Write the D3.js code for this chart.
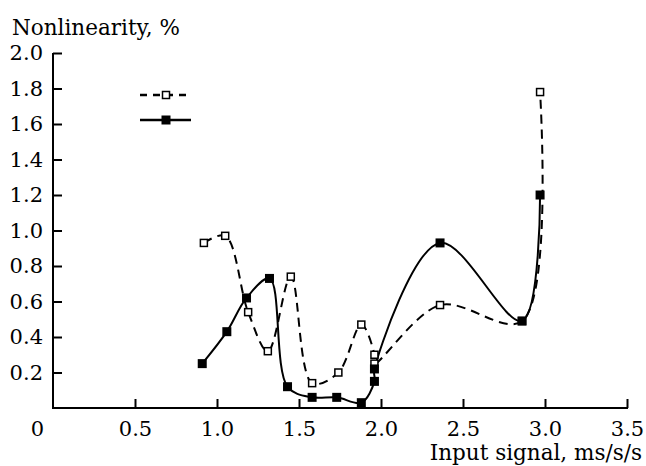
<!DOCTYPE html>
<html>
<head>
<meta charset="utf-8">
<script src="https://cdn.jsdelivr.net/npm/d3@7"></script>
<style>
  body { margin: 0; background: #fff; }
</style>
</head>
<body>
<script>
// data
const openX   = [0.92, 1.05, 1.19, 1.31, 1.45, 1.58, 1.74, 1.88, 1.96, 1.96, 2.36, 2.86, 2.97];
const openY   = [0.93, 0.97, 0.54, 0.32, 0.74, 0.14, 0.20, 0.47, 0.30, 0.25, 0.58, 0.49, 1.78];
const filledX = [0.91, 1.06, 1.18, 1.32, 1.43, 1.58, 1.73, 1.88, 1.96, 1.96, 2.36, 2.86, 2.97];
const filledY = [0.25, 0.43, 0.62, 0.73, 0.12, 0.06, 0.06, 0.03, 0.15, 0.22, 0.93, 0.49, 1.20];
const xTicks = [0, 0.5, 1.0, 1.5, 2.0, 2.5, 3.0, 3.5];
const yTicks = [0.2, 0.4, 0.6, 0.8, 1.0, 1.2, 1.4, 1.6, 1.8, 2.0];

const width = 646, height = 466;
const margin = {top: 53, right: 19, bottom: 58, left: 53};
const serif = "DejaVu Serif";

const svg = d3.select("body").append("svg")
    .attr("width", width)
    .attr("height", height)
    .attr("font-family", serif);

const x = d3.scaleLinear().domain([0, 3.5]).range([margin.left, width - margin.right]);
const y = d3.scaleLinear().domain([0, 2]).range([height - margin.bottom, margin.top]);

// axes
const xAxis = svg.append("g")
    .attr("transform", `translate(0,${y(0)})`)
    .call(d3.axisBottom(x).tickValues(xTicks).tickFormat(d => d === 0 ? "0" : d3.format(".1f")(d))
        .tickSizeInner(-9).tickSizeOuter(0).tickPadding(13));
xAxis.attr("font-family", serif).attr("font-size", 21);
xAxis.selectAll(".tick text").attr("fill", "#000");
xAxis.selectAll(".tick").filter(d => d === 0).select("line").remove();
xAxis.selectAll(".tick").filter(d => d === 0).select("text").attr("x", -16);

const yAxis = svg.append("g")
    .attr("transform", `translate(${x(0)},0)`)
    .call(d3.axisLeft(y).tickValues(yTicks).tickFormat(d3.format(".1f"))
        .tickSizeInner(-9).tickSizeOuter(0).tickPadding(10));
yAxis.attr("font-family", serif).attr("font-size", 21);
yAxis.selectAll(".tick text").attr("fill", "#000");

svg.selectAll(".domain, .tick line").attr("stroke", "#000").attr("stroke-width", 2);
yAxis.select(".domain").attr("d", `M0,${y(2)}V${y(0) + 1}`);
xAxis.select(".domain").attr("d", `M${x(0) - 1},0H${x(3.5) + 1}`);

// titles
svg.append("text").attr("x", 12).attr("y", 35).attr("font-size", 21.5)
    .text("Nonlinearity, %");
svg.append("text").attr("x", 642).attr("y", 460).attr("font-size", 21.5)
    .attr("text-anchor", "end").text("Input signal, ms/s/s");

// lines
const openData = openX.map((v, i) => [v, openY[i]]);
const filledData = filledX.map((v, i) => [v, filledY[i]]);
const line = d3.line().x(d => x(d[0])).y(d => y(d[1])).curve(d3.curveCatmullRom.alpha(0.5));

svg.append("path").datum(openData)
    .attr("fill", "none").attr("stroke", "#000").attr("stroke-width", 2)
    .attr("stroke-dasharray", "9,6").attr("d", line);
svg.append("path").datum(filledData)
    .attr("fill", "none").attr("stroke", "#000").attr("stroke-width", 2)
    .attr("d", line);

const s = 7;
svg.append("g").selectAll("rect").data(openData).join("rect")
    .attr("x", d => x(d[0]) - s / 2).attr("y", d => y(d[1]) - s / 2)
    .attr("width", s).attr("height", s)
    .attr("fill", "#fff").attr("stroke", "#000").attr("stroke-width", 1.5);
svg.append("g").selectAll("rect").data(filledData).join("rect")
    .attr("x", d => x(d[0]) - s / 2 - 1).attr("y", d => y(d[1]) - s / 2 - 1)
    .attr("width", s + 2).attr("height", s + 2)
    .attr("fill", "#000");

// legend
const lg = svg.append("g");
lg.append("line").attr("x1", 140).attr("x2", 191).attr("y1", 95).attr("y2", 95)
    .attr("stroke", "#000").attr("stroke-width", 2.5).attr("stroke-dasharray", "7,6");
lg.append("rect").attr("x", 166 - s / 2).attr("y", 95 - s / 2).attr("width", s).attr("height", s)
    .attr("fill", "#fff").attr("stroke", "#000").attr("stroke-width", 1.5);
lg.append("line").attr("x1", 140).attr("x2", 191).attr("y1", 120).attr("y2", 120)
    .attr("stroke", "#000").attr("stroke-width", 2.5);
lg.append("rect").attr("x", 166 - s / 2 - 1).attr("y", 120 - s / 2 - 1).attr("width", s + 2).attr("height", s + 2)
    .attr("fill", "#000");
</script>
</body>
</html>
